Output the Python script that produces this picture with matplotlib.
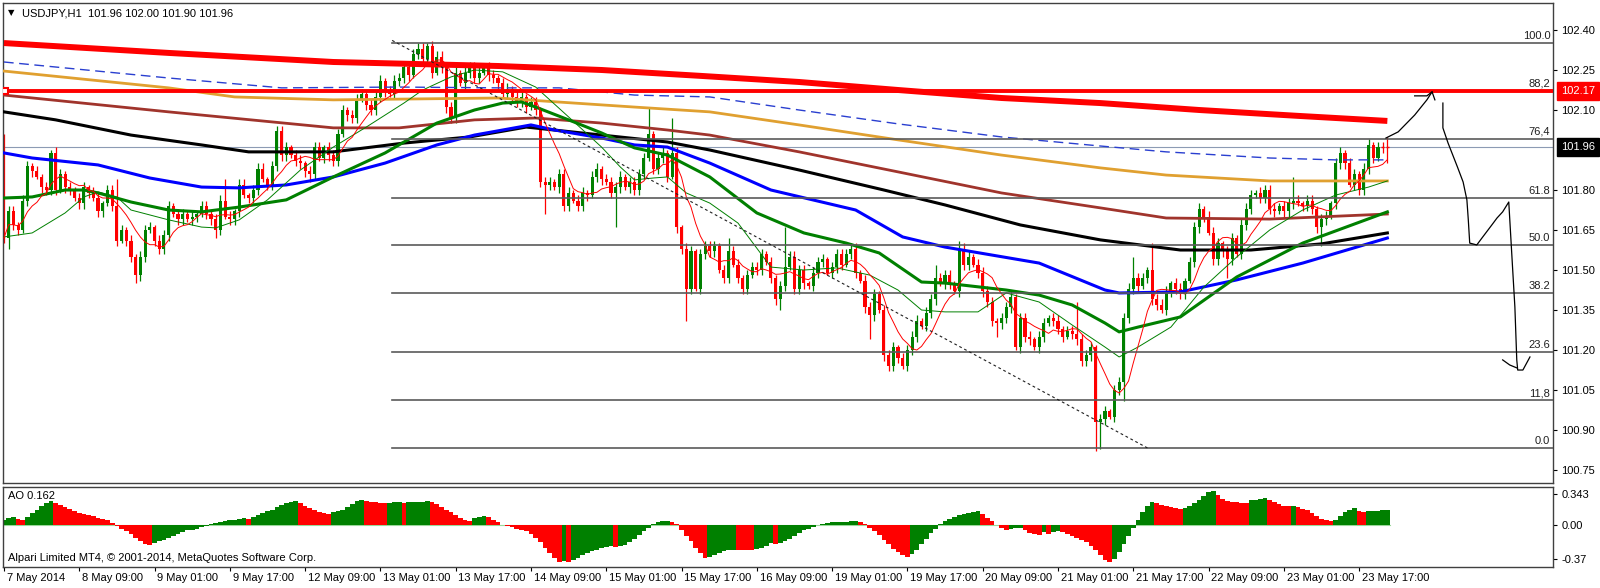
import numpy as np
import matplotlib
matplotlib.use("Agg")
import matplotlib.pyplot as plt
from matplotlib.collections import LineCollection
from matplotlib.transforms import blended_transform_factory, ScaledTranslation

plt.rcParams['font.family'] = ['Liberation Sans', 'DejaVu Sans']

# ---------------- DATA ----------------
BASE = 100.0  # prices are stored in pips above 100.00
title_text = "USDJPY,H1  101.96 102.00 101.90 101.96"
first_open_pips = 200

close_pips = [
    162, 172, 167, 165, 176, 189, 187, 185, 181, 180,
    194, 180, 186, 181, 180, 177, 175, 181, 179, 177,
    172, 175, 180, 174, 161, 165, 161, 155, 148, 155,
    165, 166, 161, 158, 163, 174, 171, 169, 171, 169,
    170, 171, 174, 171, 169, 165, 176, 170, 169, 172,
    182, 178, 177, 180, 188, 184, 182, 189, 202, 193,
    196, 193, 191, 190, 187, 186, 196, 192, 196, 193,
    191, 201, 210, 208, 207, 214, 216, 212, 210, 215,
    221, 217, 216, 221, 222, 226, 223, 231, 233, 229,
    234, 224, 230, 226, 211, 207, 224, 220, 224, 226,
    222, 224, 226, 223, 222, 220, 216, 218, 215, 213,
    215, 211, 213, 210, 183, 182, 183, 181, 186, 174,
    179, 176, 174, 179, 178, 185, 188, 184, 183, 179,
    181, 185, 181, 183, 180, 186, 192, 201, 188, 192,
    194, 185, 194, 166, 158, 143, 157, 143, 156, 159,
    157, 159, 150, 147, 157, 152, 147, 143, 148, 151,
    150, 156, 153, 147, 139, 144, 151, 155, 143, 150,
    145, 144, 149, 153, 154, 149, 151, 156, 152, 156,
    158, 149, 146, 136, 133, 141, 135, 118, 114, 121,
    117, 114, 120, 125, 131, 129, 134, 139, 147, 145,
    148, 145, 142, 158, 152, 155, 152, 149, 142, 138,
    131, 130, 132, 136, 140, 121, 132, 125, 124, 121,
    125, 130, 132, 131, 128, 125, 127, 126, 124, 116,
    118, 121, 93, 94, 97, 95, 105, 108, 132, 143,
    147, 144, 147, 150, 139, 137, 135, 142, 145, 143,
    141, 146, 153, 166, 173, 170, 164, 154, 160, 157,
    154, 162, 156, 167, 173, 178, 179, 177, 180, 173,
    172, 174, 172, 175, 176, 175, 174, 176, 173, 166,
    169, 170, 175, 190, 194, 190, 182, 186, 180, 188,
    197, 192, 196, 196, 196,
]

up_wick = [
    1, 2, 2, 1, 2, 2, 1, 2, 1, 2,
    1, 2, 2, 1, 2, 1, 2, 2, 1, 2,
    2, 1, 2, 2, 10, 2, 1, 2, 1, 2,
    2, 2, 1, 2, 2, 2, 1, 2, 2, 1,
    2, 1, 2, 2, 1, 2, 2, 8, 2, 1,
    2, 2, 1, 2, 2, 2, 1, 2, 2, 2,
    2, 1, 2, 2, 1, 2, 2, 2, 1, 2,
    2, 2, 2, 1, 2, 2, 2, 1, 2, 2,
    2, 1, 2, 2, 2, 2, 1, 2, 2, 2,
    1, 2, 2, 2, 2, 2, 2, 1, 2, 2,
    2, 2, 1, 2, 2, 1, 2, 2, 1, 2,
    2, 1, 2, 2, 1, 2, 2, 1, 2, 2,
    2, 1, 2, 2, 1, 2, 2, 1, 2, 2,
    2, 2, 1, 2, 2, 2, 2, 10, 1, 2,
    2, 1, 13, 2, 1, 2, 2, 1, 2, 2,
    2, 2, 1, 2, 5, 2, 2, 1, 2, 2,
    2, 2, 1, 2, 1, 2, 15, 2, 2, 2,
    2, 1, 2, 2, 2, 1, 2, 2, 2, 2,
    2, 2, 1, 2, 2, 2, 1, 2, 2, 2,
    1, 2, 2, 2, 2, 1, 2, 2, 5, 2,
    2, 2, 1, 3, 2, 2, 1, 2, 2, 2,
    2, 1, 2, 2, 2, 1, 2, 2, 2, 1,
    2, 2, 1, 2, 2, 1, 2, 2, 12, 2,
    2, 2, 1, 2, 2, 1, 2, 2, 2, 2,
    8, 2, 2, 1, 10, 2, 2, 2, 1, 2,
    2, 1, 2, 2, 2, 1, 2, 2, 2, 1,
    2, 2, 1, 2, 2, 2, 1, 2, 2, 2,
    2, 1, 2, 2, 9, 2, 1, 2, 2, 1,
    2, 2, 1, 2, 2, 1, 2, 2, 1, 2,
    2, 1, 2, 2, 4,
]

dn_wick = [
    2, 4, 2, 2, 1, 2, 2, 1, 2, 2,
    2, 2, 1, 2, 2, 1, 2, 2, 2, 1,
    2, 2, 1, 2, 2, 1, 2, 2, 3, 2,
    2, 1, 2, 2, 2, 2, 1, 2, 2, 1,
    2, 2, 1, 2, 2, 3, 2, 1, 2, 2,
    2, 1, 2, 2, 2, 1, 2, 2, 2, 2,
    2, 1, 2, 2, 2, 3, 2, 1, 2, 2,
    2, 2, 1, 2, 2, 2, 1, 2, 2, 2,
    2, 2, 1, 2, 2, 2, 2, 1, 2, 2,
    2, 2, 1, 2, 2, 2, 2, 1, 2, 2,
    2, 2, 1, 2, 2, 2, 1, 2, 2, 2,
    2, 2, 1, 2, 2, 11, 2, 1, 2, 2,
    2, 1, 2, 2, 2, 1, 2, 2, 1, 2,
    13, 2, 1, 2, 2, 2, 2, 1, 2, 2,
    2, 2, 1, 2, 2, 12, 2, 1, 2, 2,
    2, 2, 1, 2, 2, 1, 2, 2, 2, 1,
    2, 2, 1, 2, 2, 4, 2, 1, 2, 2,
    2, 1, 2, 2, 2, 1, 2, 2, 2, 1,
    2, 2, 1, 2, 9, 2, 1, 2, 2, 2,
    2, 1, 2, 2, 2, 1, 2, 2, 2, 1,
    2, 2, 1, 2, 2, 2, 1, 2, 2, 2,
    2, 5, 2, 2, 2, 1, 2, 2, 2, 1,
    2, 2, 1, 2, 2, 2, 1, 2, 2, 2,
    2, 2, 11, 10, 2, 1, 2, 2, 7, 2,
    2, 2, 1, 2, 2, 2, 1, 2, 2, 2,
    2, 2, 1, 2, 2, 2, 1, 2, 2, 2,
    7, 2, 1, 2, 2, 2, 1, 2, 2, 2,
    2, 1, 2, 2, 2, 1, 2, 2, 2, 2,
    7, 2, 1, 2, 2, 2, 1, 2, 2, 2,
    2, 2, 1, 2, 6,
]

ao_values = [
    0.05, 0.08, 0.09, 0.07, 0.06, 0.09, 0.13, 0.17, 0.21, 0.24,
    0.26, 0.24, 0.22, 0.20, 0.18, 0.15, 0.13, 0.12, 0.11, 0.10,
    0.08, 0.07, 0.05, 0.02, -0.01, -0.04, -0.07, -0.10, -0.14, -0.18,
    -0.21, -0.22, -0.20, -0.18, -0.16, -0.14, -0.12, -0.10, -0.08, -0.06,
    -0.05, -0.04, -0.02, -0.01, 0.01, 0.02, 0.03, 0.04, 0.05, 0.06,
    0.07, 0.08, 0.07, 0.09, 0.11, 0.13, 0.15, 0.17, 0.20, 0.22,
    0.24, 0.25, 0.26, 0.24, 0.21, 0.19, 0.17, 0.14, 0.13, 0.125,
    0.14, 0.15, 0.17, 0.20, 0.23, 0.26, 0.27, 0.26, 0.255, 0.25,
    0.245, 0.24, 0.245, 0.248, 0.25, 0.245, 0.25, 0.252, 0.255, 0.258,
    0.26, 0.25, 0.23, 0.20, 0.17, 0.14, 0.11, 0.08, 0.06, 0.04,
    0.08, 0.09, 0.095, 0.085, 0.06, 0.03, 0.00, -0.01, -0.02, -0.04,
    -0.05, -0.07, -0.10, -0.14, -0.19, -0.25, -0.31, -0.36, -0.41, -0.40,
    -0.405, -0.39, -0.36, -0.33, -0.31, -0.29, -0.28, -0.25, -0.24, -0.235,
    -0.24, -0.235, -0.22, -0.19, -0.15, -0.11, -0.07, -0.03, 0.01, 0.03,
    0.04, 0.045, 0.03, 0.01, -0.05, -0.12, -0.18, -0.25, -0.31, -0.36,
    -0.35, -0.33, -0.31, -0.29, -0.28, -0.27, -0.275, -0.276, -0.277, -0.278,
    -0.26, -0.25, -0.23, -0.20, -0.21, -0.20, -0.18, -0.15, -0.12, -0.09,
    -0.06, -0.04, -0.02, 0.00, 0.01, 0.02, 0.03, 0.033, 0.036, 0.038,
    0.04, 0.042, 0.03, 0.01, -0.03, -0.07, -0.11, -0.16, -0.21, -0.26,
    -0.30, -0.33, -0.35, -0.32, -0.27, -0.21, -0.15, -0.09, -0.04, 0.01,
    0.04, 0.07, 0.09, 0.11, 0.12, 0.13, 0.14, 0.15, 0.12, 0.08,
    0.04, 0.00, -0.03, -0.05, -0.04, -0.035, -0.03, -0.06, -0.09, -0.10,
    -0.11, -0.08, -0.10, -0.08, -0.07, -0.08, -0.10, -0.12, -0.14, -0.16,
    -0.19, -0.23, -0.28, -0.33, -0.38, -0.41, -0.37, -0.30, -0.21, -0.12,
    -0.03, 0.06, 0.14, 0.21, 0.25, 0.24, 0.225, 0.21, 0.20, 0.19,
    0.18, 0.19, 0.21, 0.24, 0.28, 0.32, 0.36, 0.37, 0.33, 0.29,
    0.26, 0.25, 0.248, 0.246, 0.244, 0.27, 0.28, 0.29, 0.295, 0.27,
    0.25, 0.23, 0.21, 0.205, 0.207, 0.20, 0.18, 0.16, 0.13, 0.10,
    0.07, 0.05, 0.04, 0.06, 0.10, 0.14, 0.17, 0.185, 0.15, 0.145,
    0.15, 0.155, 0.157, 0.16, 0.162,
]
ao_label = "AO 0.162"

# moving averages (bar index, pips)
thick_red_bars = [0, 35, 70, 105, 127, 148, 169, 190, 212, 233, 254, 275, 294]
thick_red_pips = [235.1, 231.4, 228.0, 226.5, 225.0, 222.8, 220.5, 217.5, 214.5, 212.6, 210.0, 207.8, 205.9]

dash_blue_bars = [0, 35, 59, 84, 105, 118, 134, 150, 169, 190, 212, 233, 247, 269, 283, 294]
dash_blue_pips = [228.0, 222.0, 218.3, 218.6, 218.3, 218.3, 215.6, 214.9, 210.0, 204.8, 199.9, 196.5, 194.3, 192.0, 191.3, 191.3]

orange_bars = [0, 35, 49, 70, 105, 134, 150, 169, 190, 212, 233, 247, 269, 294]
orange_pips = [224.6, 218.3, 214.9, 213.8, 214.5, 211.1, 209.3, 204.4, 198.8, 193.1, 188.3, 185.6, 183.4, 183.4]

brown_bars = [0, 35, 70, 84, 100, 113, 127, 141, 150, 169, 190, 212, 233, 247, 269, 294]
brown_pips = [215.6, 209.3, 203.3, 203.3, 206.3, 207.0, 205.1, 202.5, 200.6, 194.3, 186.8, 178.9, 173.3, 169.5, 169.1, 171.0]

black_bars = [0, 11, 27, 42, 52, 70, 85, 99, 111, 127, 141, 150, 169, 187, 200, 216, 233, 250, 265, 280, 294]
black_pips = [209.3, 206.3, 200.6, 196.9, 194.3, 194.3, 197.6, 199.9, 203.6, 200.6, 198.0, 195.0, 187.5, 180.0, 174.4, 166.9, 161.3, 157.5, 157.5, 159.8, 163.9]

blue_bars = [0, 6, 20, 31, 42, 50, 60, 70, 81, 92, 100, 112, 117, 127, 134, 141, 150, 163, 181, 191, 200, 220, 234, 237, 250, 262, 276, 294]
blue_pips = [193.9, 192.0, 189.4, 184.5, 181.1, 180.8, 181.9, 184.9, 190.1, 196.9, 200.6, 204.4, 202.5, 199.5, 196.9, 196.1, 190.1, 180.0, 172.5, 162.4, 158.6, 152.6, 142.5, 141.4, 141.8, 146.3, 152.6, 162.0]

thick_green_bars = [0, 6, 13, 17, 20, 27, 35, 42, 50, 60, 70, 81, 92, 100, 106, 110, 113, 120, 127, 134,
                    141, 150, 160, 170, 179, 186, 195, 200, 213, 220, 227, 234, 237, 241, 250, 262, 276, 294]
thick_green_pips = [177.0, 177.4, 180.0, 180.0, 178.9, 175.5, 172.5, 171.8, 173.6, 176.3, 184.9, 193.9, 205.1, 210.0,
                    212.6, 213.0, 211.1, 206.3, 201.4, 195.8, 193.1, 184.9, 171.4, 163.9, 160.1, 156.4, 145.5, 145.1,
                    142.5, 140.6, 136.9, 130.1, 126.8, 128.6, 132.4, 147.4, 160.1, 171.8]

thin_green_bars = [0, 6, 13, 17, 20, 24, 27, 35, 42, 45, 50, 56, 63, 70, 77, 85, 89, 95, 100, 106,
                   113, 120, 127, 131, 134, 138, 141, 145, 150, 156, 163, 170, 177, 184, 190, 195, 200, 207,
                   213, 220, 227, 234, 237, 241, 248, 255, 262, 269, 276, 283, 290, 294]
thin_green_pips = [162.4, 163.9, 171.4, 177.4, 179.3, 177.4, 172.5, 168.8, 166.1, 165.8, 168.8, 176.3, 187.5, 196.1,
                   203.6, 212.6, 217.5, 222.4, 225.0, 224.3, 218.6, 207.4, 196.1, 188.6, 183.8, 184.5, 184.9, 178.9,
                   175.1, 167.6, 151.1, 150.0, 150.8, 148.1, 142.5, 135.0, 134.3, 134.3, 141.4, 138.0, 129.4, 121.1,
                   117.4, 121.1, 128.6, 143.6, 154.9, 165.0, 172.5, 178.1, 181.1, 183.4]
fast_ma_period = 8

# horizontal lines / fibonacci
hline_price = 102.17
bid_price = 101.96
fib_high = 102.351
fib_low = 100.833
fib_start_bar = 82.5
fib_end_bar = 243
fib_levels = [0.0, 11.8, 23.6, 38.2, 50.0, 61.8, 76.4, 88.2, 100.0]
fib_labels = ["0.0", "11,8", "23.6", "38.2", "50.0", "61.8", "76,4", "88,2", "100.0"]

# hand-drawn projection path (bar index, price)
proj_a_bars = [293.7, 296.3, 299.8, 302.4, 303.5, 304.1]
proj_a_prices = [101.995, 102.018, 102.081, 102.138, 102.168, 102.138]
hook_a_bars = [299.8, 302.4, 303.5]
hook_a_prices = [102.153, 102.153, 102.168]
proj_b_bars = [305.8, 305.8, 306.9, 308.9, 310.1, 310.9, 311.2, 311.5, 313.0, 314.1,
               316.2, 317.3, 318.5, 319.8, 320.6, 321.1, 321.5, 321.7, 322.8, 324.3]
proj_b_prices = [102.126, 102.033, 101.976, 101.886, 101.830, 101.763, 101.688, 101.601, 101.594, 101.620,
                 101.669, 101.695, 101.718, 101.755, 101.511, 101.361, 101.163, 101.125, 101.125, 101.174]
hook_b_bars = [318.5, 320.0, 321.5]
hook_b_prices = [101.163, 101.144, 101.133]

price_ticks = [102.40, 102.25, 102.10, 101.80, 101.65, 101.50, 101.35, 101.20, 101.05, 100.90, 100.75]
ao_ticks = [0.343, 0.0, -0.37]
ao_tick_labels = ["0.343", "0.00", "-0.37"]
time_labels = ["7 May 2014", "8 May 09:00", "9 May 01:00", "9 May 17:00", "12 May 09:00",
               "13 May 01:00", "13 May 17:00", "14 May 09:00", "15 May 01:00", "15 May 17:00",
               "16 May 09:00", "19 May 01:00", "19 May 17:00", "20 May 09:00", "21 May 01:00",
               "21 May 17:00", "22 May 09:00", "23 May 01:00", "23 May 17:00"]
bars_per_label = 16
copyright_text = "Alpari Limited MT4, \u00a9 2001-2014, MetaQuotes Software Corp."

# ---------------- STYLE ----------------
BULL = "#008000"
BEAR = "#ff0000"
W, H = 1600, 588
XMIN, XMAX = -0.2, 329.2
YMIN, YMAX = 100.7014, 102.5012
AOMIN, AOMAX = -0.4615, 0.4176
FS = 8

fig = plt.figure(figsize=(W / 100, H / 100), dpi=100)
fig.patch.set_facecolor("white")
ax = fig.add_axes([3 / W, (H - 483) / H, 1550 / W, 480 / H])
ax2 = fig.add_axes([3 / W, (H - 567) / H, 1550 / W, 80 / H])

def p(v):
    return BASE + np.asarray(v, dtype=float) / 100.0

c = np.asarray(close_pips, dtype=float)
o = np.r_[first_open_pips, c[:-1]]
hi = np.maximum(o, c) + np.asarray(up_wick, dtype=float)
lo = np.minimum(o, c) - np.asarray(dn_wick, dtype=float)
n = len(c)
x = np.arange(n)
bull = c > o
cols = np.where(bull, BULL, BEAR)

# wicks
segs = [[(xi, p(l)), (xi, p(h))] for xi, l, h in zip(x, lo, hi)]
ax.add_collection(LineCollection(segs, colors=cols, linewidths=0.9, zorder=2))
# bodies
body_lo = p(np.minimum(o, c))
body_h = np.abs(c - o) / 100.0
ax.bar(x, body_h, bottom=body_lo, width=0.66, color=cols, linewidth=0, zorder=2.1)
doji = body_h == 0
ax.hlines(p(c[doji]), x[doji] - 0.33, x[doji] + 0.33, colors=BEAR, linewidth=1.0, zorder=2.1)

# bid line
ax.axhline(bid_price, color="#8c9bb4", lw=0.8, zorder=1)

# moving averages
cnt = np.minimum(np.arange(1, n + 1), fast_ma_period)
csum = np.cumsum(c)
fast_ma = (csum - np.r_[np.zeros(fast_ma_period), csum[:-fast_ma_period]]) / cnt

ax.plot(thick_red_bars, p(thick_red_pips), color="#ff0000", lw=4.3, solid_capstyle="butt", zorder=3)
ax.plot(dash_blue_bars, p(dash_blue_pips), color="#2a3fd0", lw=1.0, dashes=(7, 4), zorder=3)
ax.plot(orange_bars, p(orange_pips), color="#e0a030", lw=2.0, zorder=3)
ax.plot(brown_bars, p(brown_pips), color="#a0342c", lw=2.0, zorder=3)
ax.plot(black_bars, p(black_pips), color="#000000", lw=2.2, zorder=3)
ax.plot(blue_bars, p(blue_pips), color="#0000ff", lw=2.2, zorder=3)
ax.plot(thick_green_bars, p(thick_green_pips), color="#008000", lw=2.2, zorder=3)
ax.plot(thin_green_bars, p(thin_green_pips), color="#008000", lw=0.7, zorder=3)
ax.plot(x, p(fast_ma), color="#ff0000", lw=0.7, zorder=3)

# fibonacci
rng = fib_high - fib_low
trd = blended_transform_factory(ax.transAxes, ax.transData)
for lev, lab in zip(fib_levels, fib_labels):
    yv = fib_low + rng * lev / 100.0
    ax.plot([fib_start_bar, XMAX], [yv, yv], color="#5a5a5a", lw=1.2, zorder=4)
    ax.text(1.0, yv, lab, transform=trd + ScaledTranslation(-2 / 72, 1.5 / 72, fig.dpi_scale_trans),
            ha="right", va="bottom", fontsize=FS, color="#202020", zorder=5)
ax.plot([fib_start_bar, fib_end_bar], [fib_high + 0.01, fib_low], color="#202020", lw=0.8,
        dashes=(2.5, 2.5), zorder=4)

# red horizontal line
ax.axhline(hline_price, color="#ff0000", lw=2.8, zorder=4)
ax.plot([0.3], [hline_price], marker="s", ms=4.5, mfc="white", mec="#ff0000", mew=1.5, zorder=5)

# projection path
ax.plot(proj_a_bars, proj_a_prices, color="#000000", lw=0.9, zorder=5)
ax.plot(hook_a_bars, hook_a_prices, color="#000000", lw=0.9, zorder=5)
ax.plot(proj_b_bars, proj_b_prices, color="#000000", lw=0.9, zorder=5)
ax.plot(hook_b_bars, hook_b_prices, color="#000000", lw=0.9, zorder=5)

ax.set_xlim(XMIN, XMAX)
ax.set_ylim(YMIN, YMAX)
ax.yaxis.tick_right()
ax.set_yticks(price_ticks)
ax.set_yticklabels([f"{v:.2f}" for v in price_ticks])
ax.tick_params(axis="y", labelsize=FS, length=3, direction="out", pad=3, colors="#000000")
ax.tick_params(axis="x", bottom=False, labelbottom=False)
for s in ax.spines.values():
    s.set_color("#404040")
    s.set_linewidth(1.0)

# price boxes
off = ScaledTranslation(6 / 72, 0, fig.dpi_scale_trans)
ax.text(1.0, hline_price, f"{hline_price:.2f}", transform=trd + off, ha="left", va="center",
        fontsize=FS, color="white", clip_on=False, zorder=10,
        bbox=dict(boxstyle="square,pad=0.35", fc="#ff0000", ec="#ff0000"))
ax.text(1.0, bid_price, f"{bid_price:.2f}", transform=trd + off, ha="left", va="center",
        fontsize=FS, color="white", clip_on=False, zorder=10,
        bbox=dict(boxstyle="square,pad=0.35", fc="#000000", ec="#000000"))

# title
fig.text(8 / W, 1 - 13 / H, "\u25bc", fontsize=6, va="center", ha="left", family="DejaVu Sans")
fig.text(22 / W, 1 - 13 / H, title_text, fontsize=FS, va="center", ha="left")

# ---------------- AO panel ----------------
ao = np.asarray(ao_values, dtype=float)
ao_cols = []
for i, v in enumerate(ao):
    if i == 0:
        ao_cols.append(BULL)
    elif v > ao[i - 1]:
        ao_cols.append(BULL)
    elif v < ao[i - 1]:
        ao_cols.append(BEAR)
    else:
        ao_cols.append(ao_cols[-1])
ax2.plot([-0.5, len(ao) - 0.5], [0, 0], color="#9ad89a", lw=0.8, zorder=1)
ax2.bar(np.arange(len(ao)), ao, width=1.0, color=ao_cols, linewidth=0, zorder=2)
ax2.set_xlim(XMIN, XMAX)
ax2.set_ylim(AOMIN, AOMAX)
ax2.yaxis.tick_right()
ax2.set_yticks(ao_ticks)
ax2.set_yticklabels(ao_tick_labels)
ax2.tick_params(axis="y", labelsize=FS, length=3, direction="out", pad=3)
tick_pos = np.arange(len(time_labels)) * bars_per_label
ax2.set_xticks(tick_pos)
ax2.set_xticklabels(time_labels, ha="left")
ax2.tick_params(axis="x", labelsize=FS, length=3, direction="out", pad=1.5)
shift = ScaledTranslation(2 / 72, 0, fig.dpi_scale_trans)
for lbl in ax2.get_xticklabels():
    lbl.set_transform(lbl.get_transform() + shift)
for s in ax2.spines.values():
    s.set_color("#404040")
    s.set_linewidth(1.0)
ax2.text(5 / 1550, 1 - 9 / 80, ao_label, transform=ax2.transAxes, fontsize=FS, va="center", ha="left")
ax2.text(5 / 1550, 9 / 80, copyright_text, transform=ax2.transAxes, fontsize=FS, va="center", ha="left")

fig.savefig("out.png", dpi=100, facecolor="white")
